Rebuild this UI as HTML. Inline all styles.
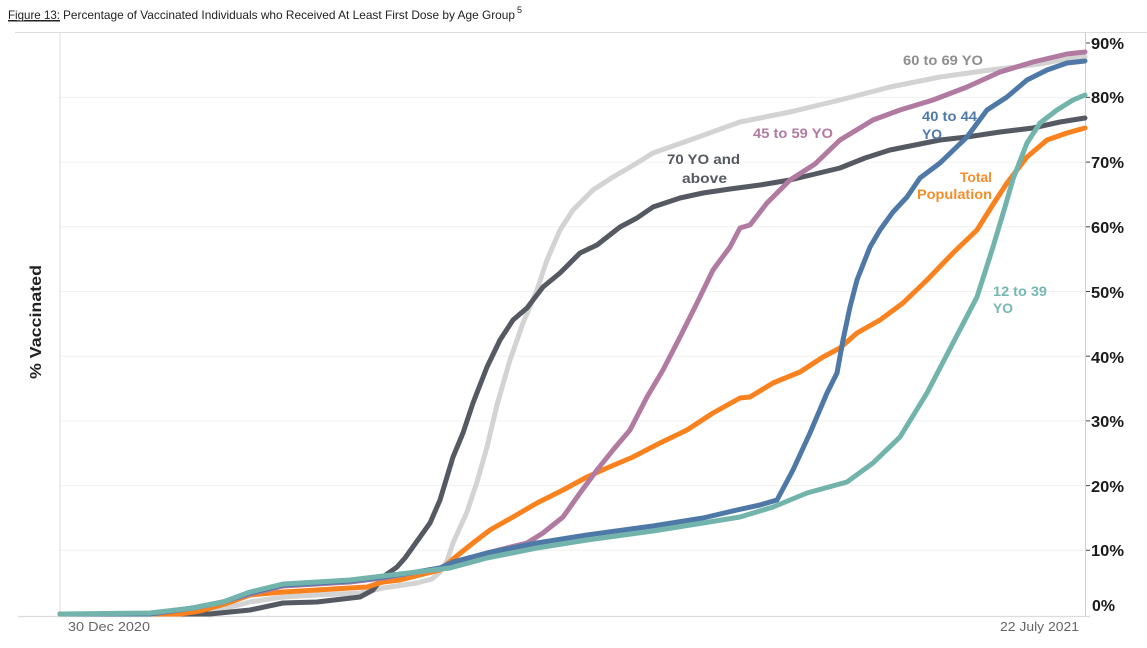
<!DOCTYPE html>
<html>
<head>
<meta charset="utf-8">
<style>
  html,body{margin:0;padding:0;background:#fff;}
  svg{display:block;}
  text{font-family:"Liberation Sans", Arial, sans-serif;}
</style>
</head>
<body>
<svg width="1147" height="648" viewBox="0 0 1147 648" xmlns="http://www.w3.org/2000/svg">
  <rect x="0" y="0" width="1147" height="648" fill="#fff"/>

  <!-- Title -->
  <text x="8" y="19" font-size="12" fill="#222" textLength="52" lengthAdjust="spacingAndGlyphs" text-decoration="underline">Figure 13:</text>
  <line x1="8" y1="21" x2="60" y2="21" stroke="#222" stroke-width="0.9"/>
  <text x="63" y="19" font-size="12" fill="#222" textLength="452" lengthAdjust="spacingAndGlyphs">Percentage of Vaccinated Individuals who Received At Least First Dose by Age Group</text>
  <text x="517" y="13" font-size="9" fill="#222">5</text>

  <!-- Frame / gridlines -->
  <line x1="15" y1="32.5" x2="1147" y2="32.5" stroke="#dcdcdc" stroke-width="1"/>
  <g stroke="#f0f0f0" stroke-width="1">
    <line x1="60" y1="97.4" x2="1085" y2="97.4"/>
    <line x1="60" y1="162.1" x2="1085" y2="162.1"/>
    <line x1="60" y1="226.8" x2="1085" y2="226.8"/>
    <line x1="60" y1="291.5" x2="1085" y2="291.5"/>
    <line x1="60" y1="356.2" x2="1085" y2="356.2"/>
    <line x1="60" y1="420.9" x2="1085" y2="420.9"/>
    <line x1="60" y1="485.6" x2="1085" y2="485.6"/>
    <line x1="60" y1="550.3" x2="1085" y2="550.3"/>
  </g>
  <line x1="60" y1="32" x2="60" y2="616" stroke="#dcdcdc" stroke-width="1"/>
  <line x1="1085.5" y1="32" x2="1085.5" y2="616" stroke="#cfcfcf" stroke-width="1"/>
  <line x1="18" y1="616.5" x2="1090" y2="616.5" stroke="#dcdcdc" stroke-width="1.2"/>

  <!-- Right ticks -->
  <g stroke="#444" stroke-width="1">
    <line x1="1086" y1="43" x2="1090" y2="43"/>
    <line x1="1086" y1="97.4" x2="1090" y2="97.4"/>
    <line x1="1086" y1="162.1" x2="1090" y2="162.1"/>
    <line x1="1086" y1="226.8" x2="1090" y2="226.8"/>
    <line x1="1086" y1="291.5" x2="1090" y2="291.5"/>
    <line x1="1086" y1="356.2" x2="1090" y2="356.2"/>
    <line x1="1086" y1="420.9" x2="1090" y2="420.9"/>
    <line x1="1086" y1="485.6" x2="1090" y2="485.6"/>
    <line x1="1086" y1="550.3" x2="1090" y2="550.3"/>
  </g>

  <!-- Right axis labels -->
  <g font-size="16" font-weight="bold" fill="#1a1a1a">
    <text x="1091" y="49" textLength="33" lengthAdjust="spacingAndGlyphs">90%</text>
    <text x="1091" y="103" textLength="33" lengthAdjust="spacingAndGlyphs">80%</text>
    <text x="1091" y="168" textLength="33" lengthAdjust="spacingAndGlyphs">70%</text>
    <text x="1091" y="233" textLength="33" lengthAdjust="spacingAndGlyphs">60%</text>
    <text x="1091" y="298" textLength="33" lengthAdjust="spacingAndGlyphs">50%</text>
    <text x="1091" y="363" textLength="33" lengthAdjust="spacingAndGlyphs">40%</text>
    <text x="1091" y="427" textLength="33" lengthAdjust="spacingAndGlyphs">30%</text>
    <text x="1091" y="492" textLength="33" lengthAdjust="spacingAndGlyphs">20%</text>
    <text x="1091" y="556" textLength="33" lengthAdjust="spacingAndGlyphs">10%</text>
    <text x="1092" y="611" textLength="23" lengthAdjust="spacingAndGlyphs">0%</text>
  </g>

  <!-- Y axis title -->
  <text transform="translate(41,322) rotate(-90)" x="0" y="0" text-anchor="middle" font-size="16" font-weight="bold" fill="#222" textLength="114" lengthAdjust="spacingAndGlyphs">% Vaccinated</text>

  <!-- X labels -->
  <text x="68" y="631" font-size="13" fill="#666" textLength="82" lengthAdjust="spacingAndGlyphs">30 Dec 2020</text>
  <text x="1000" y="631" font-size="13" fill="#666" textLength="79" lengthAdjust="spacingAndGlyphs">22 July 2021</text>

  <!-- Series -->
  <g fill="none" stroke-width="5" stroke-linejoin="round" stroke-linecap="round">
    <!-- 60 to 69 light gray -->
    <polyline stroke="#d3d3d3" points="60,614 170,614 207,613 250,602 283,597 317,595 360,593 383,588 417,583 432,579 440,572 447,561 453,543 467,512 477,482 487,447 497,405 510,360 523,323 537,290 547,260 560,230 573,210 593,190 613,177 637,163 653,153 690,140 740,122 790,112 840,100 890,87 940,77 990,70 1040,64 1060,60 1085,57"/>
    <!-- 70+ dark gray -->
    <polyline stroke="#555962" points="60,614 150,614 190,614 210,614 250,610 283,603 317,602 360,597 373,590 383,577 397,567 405,558 420,537 430,523 440,500 453,457 463,433 473,403 487,367 500,340 513,320 527,308 543,287 560,273 580,253 597,245 620,227 637,218 653,207 680,198 703,193 730,189 760,185 790,180 815,174 840,168 865,158 890,150 915,145 940,140 967,137 1000,132 1033,128 1060,122 1085,118"/>
    <!-- Total population orange -->
    <polyline stroke="#f9821f" points="60,614 180,614 200,611 225,604 250,595 283,592 317,590 350,588 367,587 383,582 400,580 420,575 440,570 453,559 473,543 490,530 513,517 537,503 563,490 587,477 607,468 633,457 660,443 687,430 713,413 740,398 750,397 773,383 800,372 823,357 840,348 857,333 880,320 903,303 927,280 953,253 977,230 992,206 1007,183 1027,157 1047,140 1067,133 1085,128"/>
    <!-- 45 to 59 purple -->
    <polyline stroke="#b07aa1" points="60,614 150,614 193,608 223,602 250,594 283,586 317,584 350,582 383,578 417,572 440,568 453,563 487,553 527,543 543,533 563,517 580,493 597,470 613,450 630,430 647,397 663,370 680,337 697,303 713,270 730,247 740,228 750,225 767,203 790,180 815,164 840,140 873,120 900,110 933,100 967,87 1000,72 1033,62 1067,54 1085,52"/>
    <!-- 40 to 44 blue -->
    <polyline stroke="#4e79a7" points="60,614 150,614 193,608 223,602 250,593 283,585 317,583 350,581 383,577 417,572 440,568 453,562 487,553 537,543 587,535 653,526 703,518 737,510 760,505 777,500 793,470 810,433 827,393 837,373 843,340 850,307 857,280 870,247 880,230 893,212 907,197 920,178 940,163 967,137 987,110 1007,97 1027,80 1047,70 1067,63 1085,61"/>
    <!-- 12 to 39 teal -->
    <polyline stroke="#72b4ac" points="60,614 150,613 193,608 223,602 250,592 283,584 317,582 350,580 383,576 417,572 450,568 487,558 537,548 587,540 653,531 703,523 740,517 773,507 807,493 847,482 873,463 900,437 927,393 953,343 977,297 993,247 1005,207 1013,179 1027,143 1040,123 1057,110 1073,100 1085,95"/>
  </g>

  <!-- Annotations -->
  <g font-size="14" font-weight="bold">
    <text x="903" y="65" fill="#8e8e8e" textLength="80" lengthAdjust="spacingAndGlyphs">60 to 69 YO</text>
    <text x="753" y="138" fill="#b07aa1" textLength="80" lengthAdjust="spacingAndGlyphs">45 to 59 YO</text>
    <text x="922" y="121" fill="#4e79a7" textLength="55" lengthAdjust="spacingAndGlyphs">40 to 44</text>
    <text x="922" y="139" fill="#4e79a7" textLength="20" lengthAdjust="spacingAndGlyphs">YO</text>
    <text x="667" y="164" fill="#555962" textLength="73" lengthAdjust="spacingAndGlyphs">70 YO and</text>
    <text x="682" y="183" fill="#555962" textLength="45" lengthAdjust="spacingAndGlyphs">above</text>
    <text x="960" y="182" fill="#f28e2b" textLength="32" lengthAdjust="spacingAndGlyphs">Total</text>
    <text x="917" y="199" fill="#f28e2b" textLength="75" lengthAdjust="spacingAndGlyphs">Population</text>
    <text x="993" y="296" fill="#76b7b2" textLength="54" lengthAdjust="spacingAndGlyphs">12 to 39</text>
    <text x="993" y="313" fill="#76b7b2" textLength="20" lengthAdjust="spacingAndGlyphs">YO</text>
  </g>
</svg>
</body>
</html>
